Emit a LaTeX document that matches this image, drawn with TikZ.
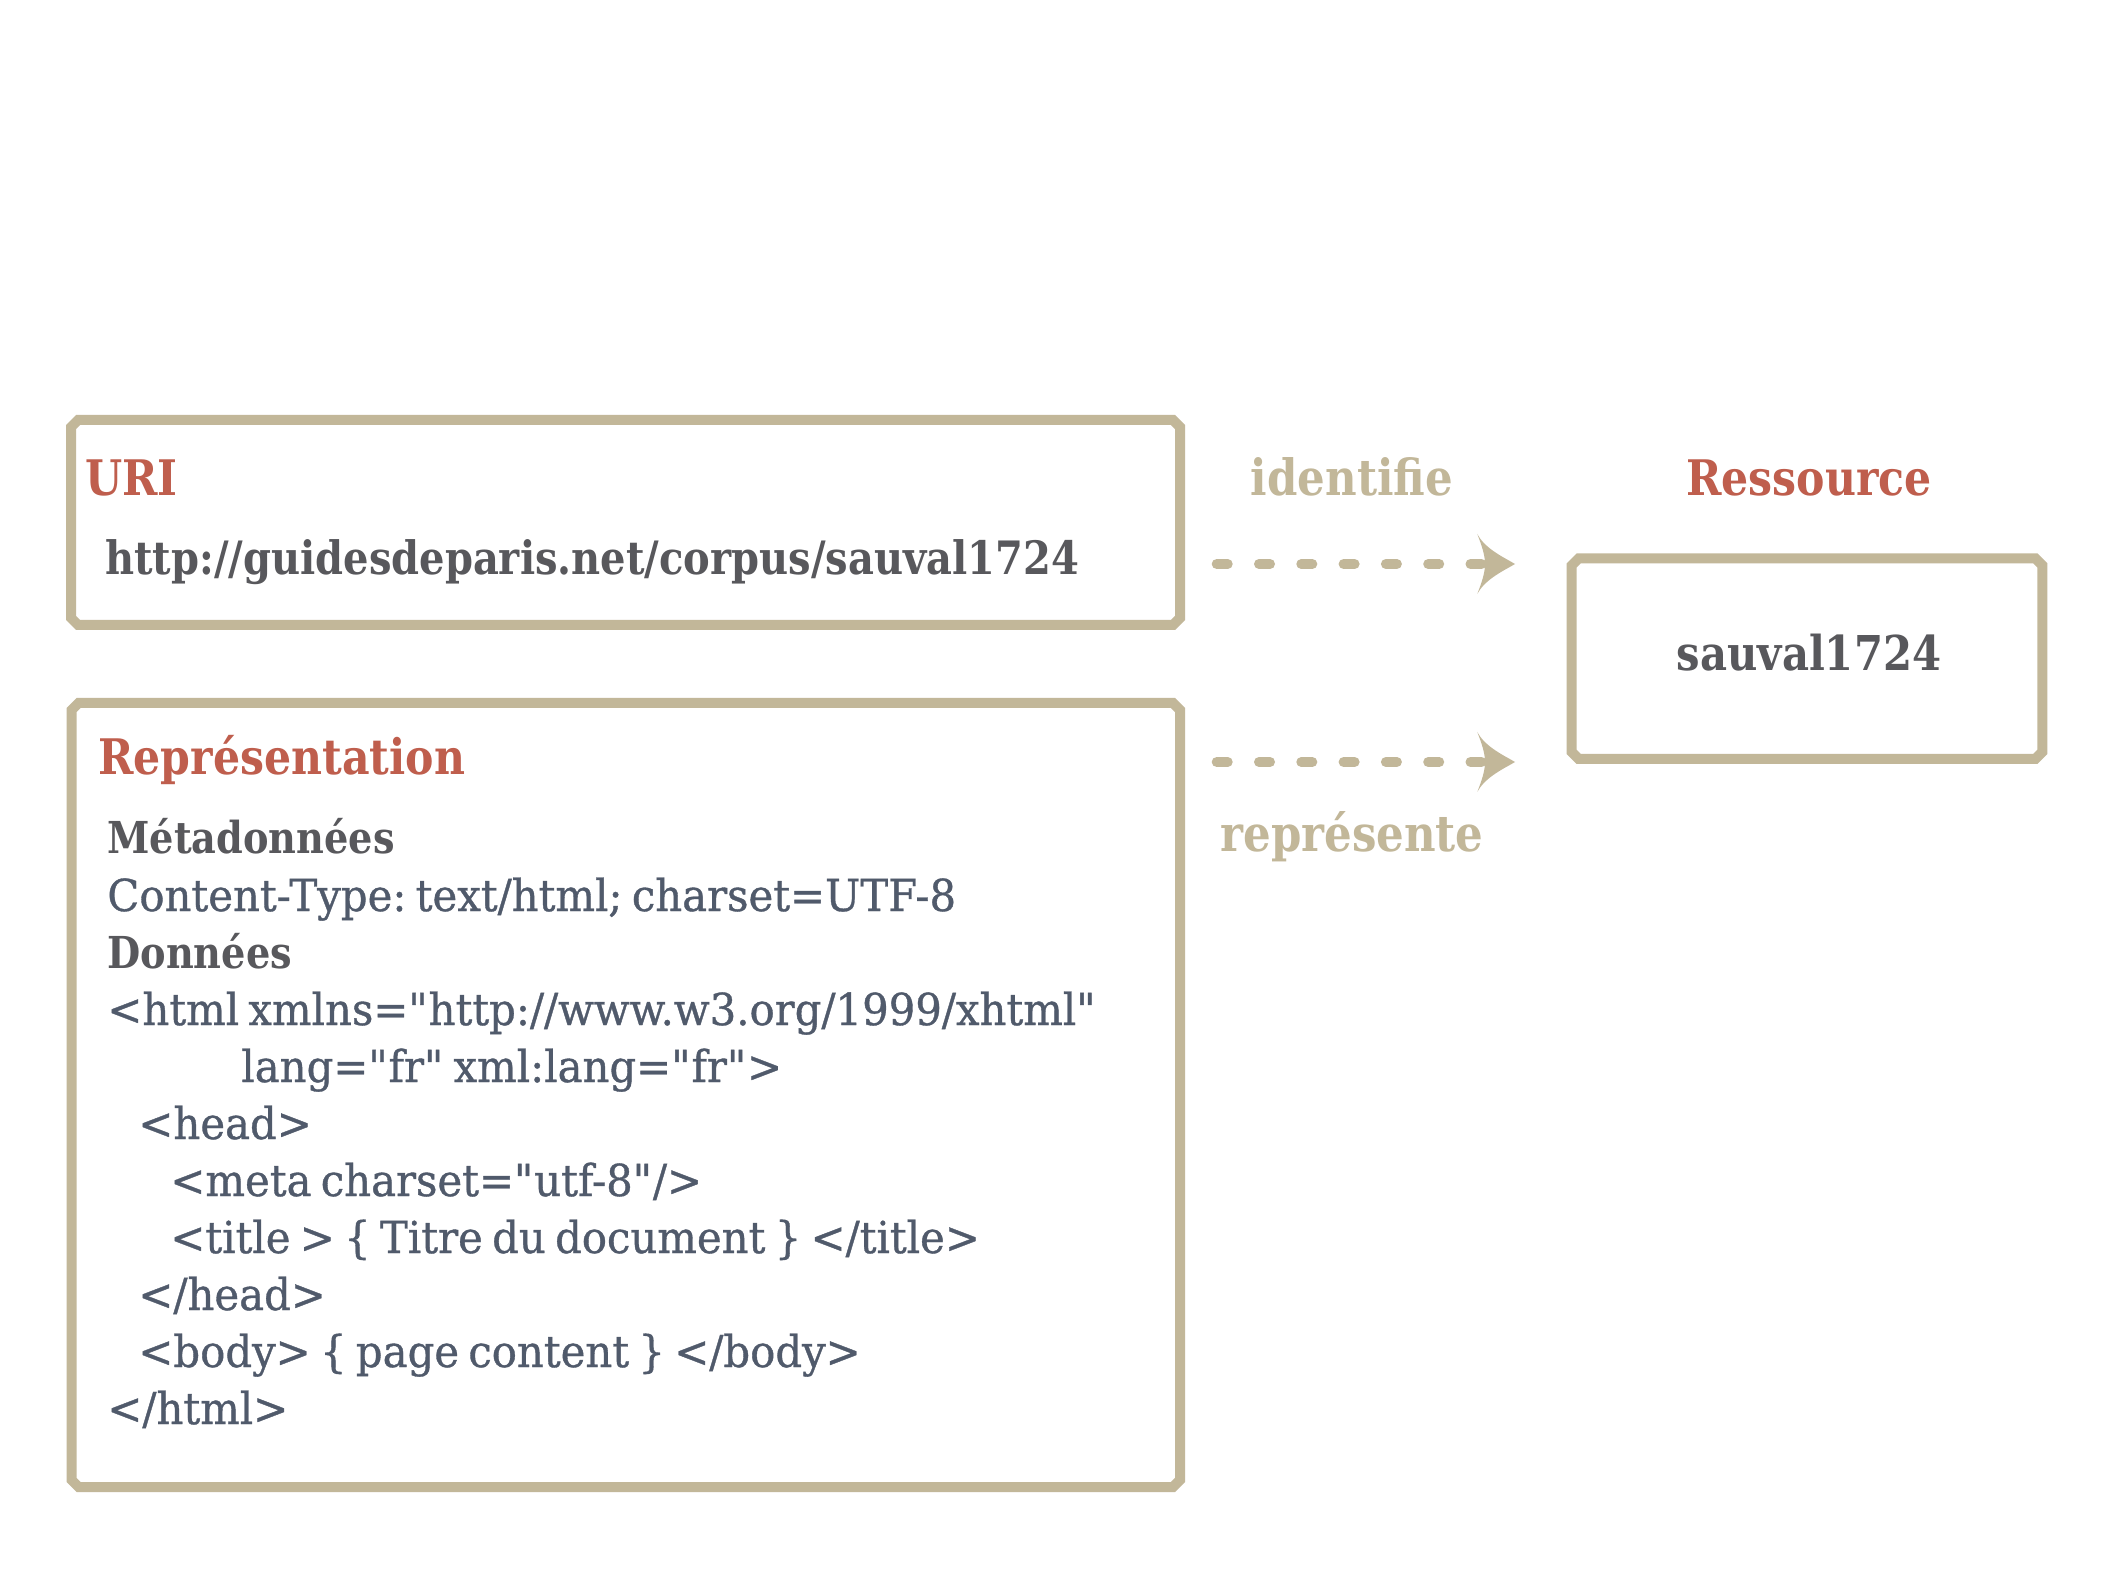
\documentclass[tikz,border=0pt]{standalone}
\usepackage{fontspec}
\setmainfont{DejaVu Serif}[FakeStretch=0.95, FakeBold=0.8, WordSpace=0.7, BoldFeatures={FakeStretch=0.87, FakeBold=0, WordSpace=1}]
\usetikzlibrary{arrows.meta}
\definecolor{tan}{HTML}{C2B799}
\definecolor{rouge}{HTML}{BF5E4D}
\definecolor{gris}{HTML}{58585C}
\definecolor{ardoise}{HTML}{505A6B}
\newcommand\qd{\XeTeXglyph\XeTeXcharglyph"22\relax}
% chamfered outline drawn along the border of a named node
\newcommand\chanfrein[1]{%
  \draw[cadre] ([xshift=3.54pt]#1.north west) -- ([xshift=-3.54pt]#1.north east)
    -- ([yshift=-3.54pt]#1.north east) -- ([yshift=3.54pt]#1.south east)
    -- ([xshift=-3.54pt]#1.south east) -- ([xshift=3.54pt]#1.south west)
    -- ([yshift=3.54pt]#1.south west) -- ([yshift=-3.54pt]#1.north west) -- cycle;}

\pgfdeclarearrow{
  name=Plume,
  setup code={
    \pgfarrowssettipend{0pt}
    \pgfarrowssetlineend{-15pt}
    \pgfarrowssetbackend{-18.85pt}
    \pgfarrowssetvisualbackend{-15pt}
    \pgfarrowshullpoint{0pt}{0pt}
    \pgfarrowshullpoint{-18.85pt}{15pt}
    \pgfarrowshullpoint{-18.85pt}{-15pt}
  },
  drawing code={
    \pgfpathmoveto{\pgfpointorigin}
    \pgfpathcurveto{\pgfpoint{-5pt}{3pt}}{\pgfpoint{-15pt}{7.5pt}}{\pgfpoint{-18.85pt}{15pt}}
    \pgfpathcurveto{\pgfpoint{-17pt}{10pt}}{\pgfpoint{-15pt}{5pt}}{\pgfpoint{-15pt}{0pt}}
    \pgfpathcurveto{\pgfpoint{-15pt}{-5pt}}{\pgfpoint{-17pt}{-10pt}}{\pgfpoint{-18.85pt}{-15pt}}
    \pgfpathcurveto{\pgfpoint{-15pt}{-7.5pt}}{\pgfpoint{-5pt}{-3pt}}{\pgfpointorigin}
    \pgfpathclose
    \pgfusepathqfill
  }
}

\begin{document}
\begin{tikzpicture}[x=0.5pt,y=-0.5pt,
  boite/.style={inner sep=0pt, outer sep=0pt},
  cadre/.style={draw=tan, line width=5pt, line join=miter},
  fleche/.style={draw=tan, line width=5pt, line cap=round, dash pattern=on 5.5pt off 15.65pt, -Plume},
  titre/.style={text=rouge, font=\bfseries\fontsize{24.5}{29}\selectfont, inner sep=0pt},
  verbe/.style={text=tan, font=\bfseries\fontsize{25}{30}\selectfont, inner sep=0pt, anchor=base},
  lien/.style={text=gris, font=\bfseries\fontsize{23}{28}\selectfont, inner sep=0pt, anchor=base west},
  nom/.style={text=gris, font=\bfseries\fontsize{24}{29}\selectfont, inner sep=0pt, anchor=base},
  rubrique/.style={text=gris, font=\bfseries\fontsize{22}{26}\selectfont, inner sep=0pt, anchor=base west},
  code/.style={text=ardoise, font=\fontsize{22}{26}\selectfont\frenchspacing, inner sep=0pt, anchor=base west}]
\fill[white] (0,0) rectangle (2110,1582);
\useasboundingbox (0,0) rectangle (2110,1582);

% boxes
\node[boite, minimum width=554.5pt, minimum height=102.5pt] (uri) at (625.5,522.5) {};
\node[boite, minimum width=554.25pt, minimum height=392pt] (repr) at (625.75,1095) {};
\node[boite, minimum width=235.3pt, minimum height=100.35pt] (res) at (1807,658.65) {};
\chanfrein{uri}
\chanfrein{repr}
\chanfrein{res}

% URI box
\node[titre, anchor=base west] (turi) at (85,496) {URI};
\node[lien] (url) at (105,575) {http://guidesdeparis.net/corpus/sauval1724};

% resource
\node[titre, anchor=base] (tres) at (1809,496) {Ressource};
\node[nom] (sauval) at (1809,671) {sauval1724};

% verbs
\node[verbe] (ident) at (1352,496) {identifie};
\node[verbe] (repres) at (1352,851) {représente};

% arrows
\coordinate (d1) at (1216.7,564);
\coordinate (f1) at (1515,564);
\coordinate (d2) at (1216.7,762);
\coordinate (f2) at (1515,762);
\draw[fleche] (d1) -- (f1);
\draw[fleche] (d2) -- (f2);

% representation box
\node[titre, anchor=base west] (trepr) at (98,775) {Représentation};
\node[rubrique] (l1) at (107,854) {Métadonnées};
\node[code] (l2) at (107,911) {Content-Type: text/html; charset=UTF-8};
\node[rubrique] (l3) at (107,968) {Données};
\node[code] (l4) at (107,1025) {<html xmlns=\qd http://www.w3.org/1999/xhtml\qd};
\node[code] (l5) at (241,1082) {lang=\qd fr\qd{} xml:lang=\qd fr\qd>};
\node[code] (l6) at (138,1139) {<head>};
\node[code] (l7) at (170,1196) {<meta charset=\qd utf-8\qd/>};
\node[code] (l8) at (170,1253) {<title > \{ Titre du document \} </title>};
\node[code] (l9) at (138,1310) {</head>};
\node[code] (l10) at (138,1367) {<body> \{ page content \} </body>};
\node[code] (l11) at (107,1424) {</html>};
\end{tikzpicture}
\end{document}
